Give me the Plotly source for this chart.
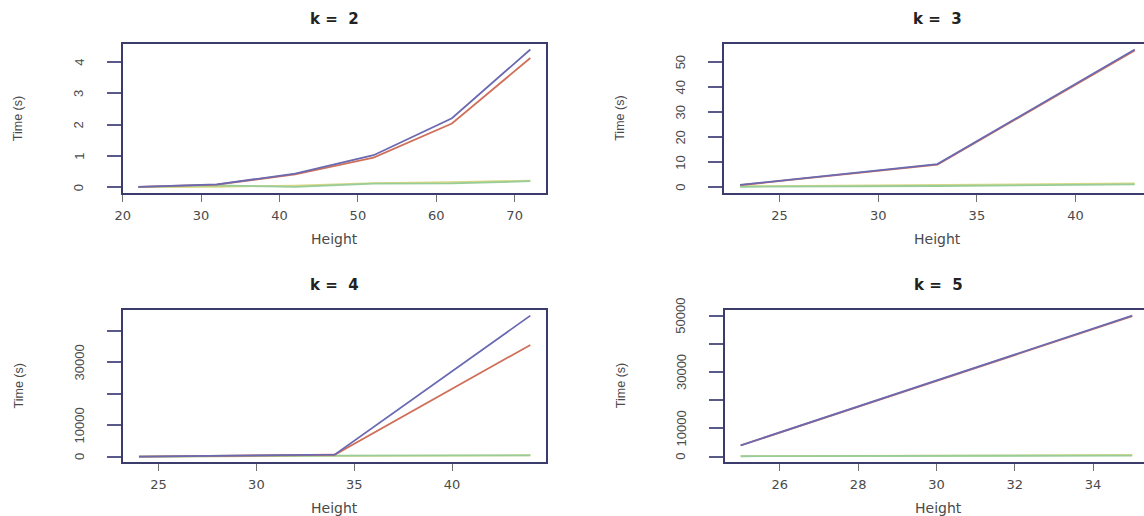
import plotly.graph_objects as go

# ---- data ----
heights_k2 = [22, 32, 42, 52, 62, 72]
blue_k2 = [0.02, 0.10, 0.44, 1.03, 2.21, 4.40]
red_k2 = [0.02, 0.09, 0.42, 0.95, 2.04, 4.13]
green_k2 = [0.01, 0.07, 0.02, 0.12, 0.13, 0.20]
yellow_k2 = [0.01, 0.02, 0.06, 0.14, 0.17, 0.22]

heights_k3 = [23, 33, 43]
blue_k3 = [1.0, 9.3, 55.0]
red_k3 = [0.9, 9.1, 54.6]
green_k3 = [0.3, 0.6, 1.2]
yellow_k3 = [0.5, 0.9, 1.6]

heights_k4 = [24, 34, 44]
blue_k4 = [30, 650, 44800]
red_k4 = [30, 600, 35500]
green_k4 = [20, 350, 380]
yellow_k4 = [20, 300, 450]

heights_k5 = [25, 35]
blue_k5 = [4000, 50000]
red_k5 = [3950, 49800]
green_k5 = [150, 400]
yellow_k5 = [200, 600]

titles = ["k =\u00a0 2", "k =\u00a0 3", "k =\u00a0 4", "k =\u00a0 5"]

x_ticks = [[20, 30, 40, 50, 60, 70], [25, 30, 35, 40], [25, 30, 35, 40], [26, 28, 30, 32, 34]]
y_ticks = [[0, 1, 2, 3, 4], [0, 10, 20, 30, 40, 50],
           [0, 10000, 20000, 30000, 40000], [0, 10000, 20000, 30000, 40000, 50000]]
y_ticklabels = [["0", "1", "2", "3", "4"], ["0", "10", "20", "30", "40", "50"],
                ["0", "10000", "", "30000", ""], ["0", "10000", "", "30000", "", "50000"]]

# ---- styling ----
W, H = 1144, 516
COL_BLUE = "#6a6ab2"
COL_RED = "#d0705a"
COL_GREEN = "#98cc98"
COL_YELLOW = "#d8d884"
AXIS_COL = "#3c3c6c"
TEXT_COL = "#4a4a4a"

# panel boxes in pixels: (left, right, top, bottom)
boxes = [(122.7, 546.0, 44.0, 193.0), (724.3, 1144.0, 44.0, 193.0),
         (123.3, 546.0, 310.0, 462.3), (725.0, 1144.0, 310.0, 462.3)]
x_ranges = [[20.0, 74.0], [22.2, 43.47], [23.2, 44.8], [24.6, 35.3]]
y_ranges = [[-0.176, 4.576], [-2.2, 57.2], [-1792, 46592], [-2000, 52000]]

panels = [
    (heights_k2, [blue_k2, red_k2, green_k2, yellow_k2]),
    (heights_k3, [blue_k3, red_k3, green_k3, yellow_k3]),
    (heights_k4, [blue_k4, red_k4, green_k4, yellow_k4]),
    (heights_k5, [blue_k5, red_k5, green_k5, yellow_k5]),
]
series_cols = [COL_BLUE, COL_RED, COL_GREEN, COL_YELLOW]
series_names = ["blue", "red", "green", "yellow"]
draw_order = [3, 2, 1, 0]

fig = go.Figure()
layout = dict(width=W, height=H, margin=dict(l=0, r=0, t=0, b=0, pad=0),
              paper_bgcolor="white", plot_bgcolor="white", showlegend=False)
annotations = []

for i, (xs, ys_list) in enumerate(panels):
    n = i + 1
    xa = "x" if n == 1 else f"x{n}"
    ya = "y" if n == 1 else f"y{n}"
    for j in draw_order:
        fig.add_trace(go.Scatter(x=xs, y=ys_list[j], mode="lines", name=series_names[j],
                                 line=dict(color=series_cols[j], width=1.8),
                                 xaxis=xa, yaxis=ya, hoverinfo="skip"))
    l, r, t, b = boxes[i]
    right_clipped = r >= W - 0.5
    layout[f"xaxis{'' if n == 1 else n}"] = dict(
        domain=[l / W, r / W], range=x_ranges[i], anchor=ya, automargin=False,
        showgrid=False, zeroline=False, showline=True, linecolor=AXIS_COL, linewidth=2,
        mirror=True, ticks="outside", ticklen=7, tickwidth=1.3, tickcolor="#707070",
        tickvals=x_ticks[i], ticktext=[str(v) for v in x_ticks[i]],
        tickfont=dict(family="DejaVu Sans", size=13, color=TEXT_COL),
        ticklabelstandoff=2, fixedrange=True)
    layout[f"yaxis{'' if n == 1 else n}"] = dict(
        domain=[(H - b) / H, (H - t) / H], range=y_ranges[i], anchor=xa, automargin=False,
        showgrid=False, zeroline=False, showline=True, linecolor=AXIS_COL, linewidth=2,
        mirror=(not right_clipped), ticks="outside", ticklen=14, tickwidth=2,
        tickcolor="#5a5a8a", tickvals=y_ticks[i], showticklabels=False, fixedrange=True)
    # rotated y tick labels (R style), placed on the y scale of the panel
    for tv, tt in zip(y_ticks[i], y_ticklabels[i]):
        if tt:
            annotations.append(dict(text=tt, x=(l - 44) / W, y=tv, xref="paper", yref=ya,
                                    showarrow=False, textangle=-90, xanchor="center",
                                    yanchor="middle",
                                    font=dict(family="Liberation Sans", size=13, color=TEXT_COL)))
    cx = (l + (r if not right_clipped else 1151)) / 2
    annotations.append(dict(text=f"<b>{titles[i]}</b>", x=cx / W, y=(H - (t - 25)) / H,
                            xref="paper", yref="paper", showarrow=False,
                            xanchor="center", yanchor="middle",
                            font=dict(family="DejaVu Sans", size=15, color="#222222")))
    annotations.append(dict(text="Height", x=cx / W, y=(H - (b + 45.7)) / H,
                            xref="paper", yref="paper", showarrow=False,
                            xanchor="center", yanchor="middle",
                            font=dict(family="DejaVu Sans", size=14, color=TEXT_COL)))
    annotations.append(dict(text="Time (s)", x=(l - 104) / W, y=(H - (t + b) / 2) / H,
                            xref="paper", yref="paper", showarrow=False, textangle=-90,
                            xanchor="center", yanchor="middle",
                            font=dict(family="Liberation Sans", size=12.5,
                                      color=TEXT_COL)))

layout["annotations"] = annotations
fig.update_layout(**layout)
fig.write_html("out.html", config={"displayModeBar": False},
               post_script="document.body.style.margin='0px';")
